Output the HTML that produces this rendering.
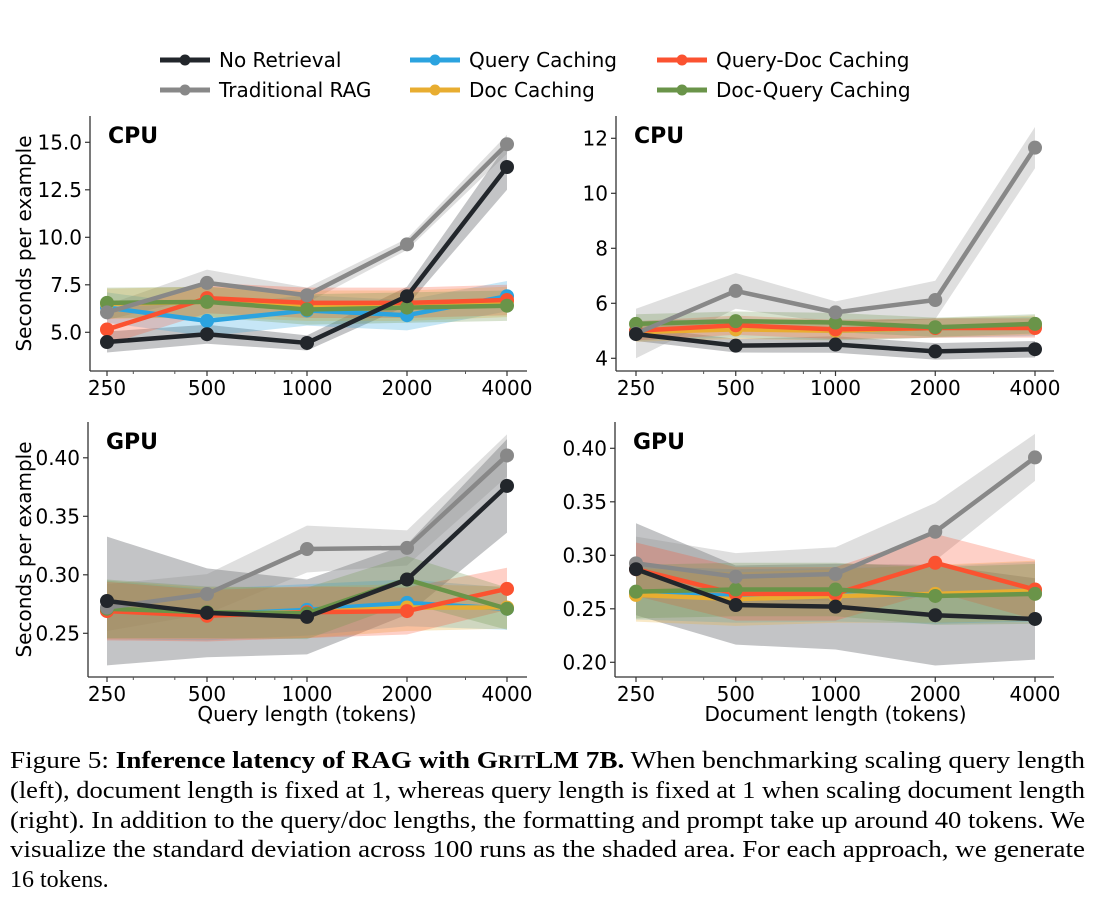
<!DOCTYPE html>
<html><head><meta charset="utf-8">
<style>
html,body{margin:0;padding:0;background:#fff;}
svg{display:block;font-family:"DejaVu Sans","Liberation Sans",sans-serif;}
</style></head>
<body>
<svg id="fig" width="1096" height="914" viewBox="0 0 1096 914" xmlns="http://www.w3.org/2000/svg">
  <g id="legend"></g>
  <g id="panels"></g>
  <g font-family="'Liberation Serif',serif" font-size="24" fill="#000">
    <text x="10" y="768" textLength="1075" lengthAdjust="spacingAndGlyphs">Figure 5: <tspan font-weight="bold">Inference latency of RAG with G<tspan font-size="18.5">RIT</tspan>LM 7B.</tspan> When benchmarking scaling query length</text>
    <text x="10" y="798" textLength="1075" lengthAdjust="spacingAndGlyphs">(left), document length is fixed at 1, whereas query length is fixed at 1 when scaling document length</text>
    <text x="10" y="828" textLength="1075" lengthAdjust="spacingAndGlyphs">(right). In addition to the query/doc lengths, the formatting and prompt take up around 40 tokens. We</text>
    <text x="10" y="857" textLength="1075" lengthAdjust="spacingAndGlyphs">visualize the standard deviation across 100 runs as the shaded area. For each approach, we generate</text>
    <text x="10" y="887">16 tokens.</text>
  </g>
</svg>
<script>
// ---- data ----
const categories = [250, 500, 1000, 2000, 4000];
const seriesNames = ["No Retrieval","Traditional RAG","Query Caching","Doc Caching","Query-Doc Caching","Doc-Query Caching"];
const seriesColors = ["#22262b","#888888","#2ba3df","#e8ad30","#fb5230","#6a9449"];

// Query length CPU
const qCpuNoRet   = [4.49, 4.9, 4.44, 6.9, 13.7];
const qCpuTrad    = [6.05, 7.6, 6.95, 9.63, 14.9];
const qCpuQuery   = [6.3, 5.6, 6.15, 5.9, 6.9];
const qCpuDoc     = [6.5, 6.6, 6.4, 6.4, 6.6];
const qCpuQD      = [5.15, 6.8, 6.55, 6.55, 6.7];
const qCpuDQ      = [6.55, 6.6, 6.2, 6.3, 6.4];
const qCpuNoRetSd = [0.55, 0.5, 0.4, 0.5, 1.2];
const qCpuTradSd  = [0.4, 0.7, 0.4, 0.3, 0.5];
const qCpuOtherSd = [0.8, 0.8, 0.8, 0.8, 0.8];

// Doc length CPU
const dCpuNoRet   = [4.88, 4.46, 4.5, 4.25, 4.33];
const dCpuTrad    = [4.9, 6.45, 5.67, 6.12, 11.66];
const dCpuQuery   = [5.0, 5.1, 5.0, 5.1, 5.15];
const dCpuDoc     = [4.95, 5.05, 5.0, 5.1, 5.2];
const dCpuQD      = [5.0, 5.2, 5.05, 5.1, 5.1];
const dCpuDQ      = [5.25, 5.35, 5.3, 5.13, 5.25];
const dCpuNoRetSd = [0.25, 0.25, 0.3, 0.3, 0.3];
const dCpuTradSd  = [0.9, 0.65, 0.4, 0.7, 0.75];
const dCpuOtherSd = [0.35, 0.35, 0.35, 0.35, 0.35];

// Query length GPU
const qGpuNoRet   = [0.2776, 0.2675, 0.264, 0.296, 0.376];
const qGpuTrad    = [0.272, 0.2836, 0.322, 0.323, 0.402];
const qGpuQuery   = [0.270, 0.266, 0.270, 0.276, 0.271];
const qGpuDoc     = [0.270, 0.267, 0.268, 0.272, 0.272];
const qGpuQD      = [0.269, 0.265, 0.268, 0.269, 0.288];
const qGpuDQ      = [0.271, 0.268, 0.267, 0.296, 0.271];
const qGpuNoRetSd = [0.055, 0.038, 0.032, 0.03, 0.04];
const qGpuTradSd  = [0.02, 0.017, 0.02, 0.015, 0.018];
const qGpuOtherSd = [0.025, 0.022, 0.022, 0.02, 0.018];

// Doc length GPU
const dGpuNoRet   = [0.287, 0.2535, 0.252, 0.244, 0.2405];
const dGpuTrad    = [0.2925, 0.28, 0.2825, 0.322, 0.3915];
const dGpuQuery   = [0.265, 0.262, 0.263, 0.263, 0.266];
const dGpuDoc     = [0.263, 0.259, 0.262, 0.264, 0.267];
const dGpuQD      = [0.287, 0.264, 0.264, 0.293, 0.268];
const dGpuDQ      = [0.266, 0.268, 0.268, 0.262, 0.264];
const dGpuNoRetSd = [0.043, 0.037, 0.04, 0.047, 0.038];
const dGpuTradSd  = [0.025, 0.022, 0.025, 0.027, 0.022];
const dGpuOtherSd = [0.025, 0.025, 0.025, 0.027, 0.028];

const qCpuTicks = [5.0, 7.5, 10.0, 12.5, 15.0];
const qCpuTickLabels = ["5.0","7.5","10.0","12.5","15.0"];
const dCpuTicks = [4, 6, 8, 10, 12];
const dCpuTickLabels = ["4","6","8","10","12"];
const qGpuTicks = [0.25, 0.30, 0.35, 0.40];
const qGpuTickLabels = ["0.25","0.30","0.35","0.40"];
const dGpuTicks = [0.20, 0.25, 0.30, 0.35, 0.40];
const dGpuTickLabels = ["0.20","0.25","0.30","0.35","0.40"];
const xTickLabels = ["250","500","1000","2000","4000"];
const minorTicks = [300,400,600,700,800,900,3000];

const NS = "http://www.w3.org/2000/svg";
function mk(tag, attrs, parent){
  const e = document.createElementNS(NS, tag);
  for (const k in attrs) e.setAttribute(k, attrs[k]);
  if (parent) parent.appendChild(e);
  return e;
}

// Legend
const leg = document.getElementById('legend');
const legPos = [[160,60],[160,90],[410,60],[410,90],[657,60],[657,90]];
seriesNames.forEach((n,i)=>{
  const g = mk('g',{},leg);
  
  
  const [x,y] = legPos[i];
  mk('line',{x1:x,y1:y,x2:x+50,y2:y,stroke:seriesColors[i],'stroke-width':5},g);
  mk('circle',{cx:x+25,cy:y,r:5.5,fill:seriesColors[i]},g);
  const t = mk('text',{x:x+59,y:y+7,'font-size':20,fill:'#000'},g);
  t.textContent = n;
});

// Panels
const panels = [
  {name:'query-cpu', title:'CPU', left:90, right:527, top:116, bottom:371, x0:107, dx:100, vy:5.0, py:332.3, scale:19.0,
   ticks:qCpuTicks, labels:qCpuTickLabels, ylab:true, xlab:null,
   vals:[qCpuNoRet,qCpuTrad,qCpuQuery,qCpuDoc,qCpuQD,qCpuDQ], sds:[qCpuNoRetSd,qCpuTradSd,qCpuOtherSd,qCpuOtherSd,qCpuOtherSd,qCpuOtherSd]},
  {name:'doc-cpu', title:'CPU', left:616, right:1054, top:116, bottom:371, x0:636, dx:99.75, vy:4, py:358.3, scale:27.5,
   ticks:dCpuTicks, labels:dCpuTickLabels, ylab:false, xlab:null,
   vals:[dCpuNoRet,dCpuTrad,dCpuQuery,dCpuDoc,dCpuQD,dCpuDQ], sds:[dCpuNoRetSd,dCpuTradSd,dCpuOtherSd,dCpuOtherSd,dCpuOtherSd,dCpuOtherSd]},
  {name:'query-gpu', title:'GPU', left:88, right:527, top:422, bottom:677, x0:107, dx:100, vy:0.25, py:633.3, scale:1170,
   ticks:qGpuTicks, labels:qGpuTickLabels, ylab:true, xlab:'Query length (tokens)',
   vals:[qGpuNoRet,qGpuTrad,qGpuQuery,qGpuDoc,qGpuQD,qGpuDQ], sds:[qGpuNoRetSd,qGpuTradSd,qGpuOtherSd,qGpuOtherSd,qGpuOtherSd,qGpuOtherSd]},
  {name:'doc-gpu', title:'GPU', left:615, right:1054, top:422, bottom:677, x0:636, dx:99.75, vy:0.20, py:662.3, scale:1070,
   ticks:dGpuTicks, labels:dGpuTickLabels, ylab:false, xlab:'Document length (tokens)',
   vals:[dGpuNoRet,dGpuTrad,dGpuQuery,dGpuDoc,dGpuQD,dGpuDQ], sds:[dGpuNoRetSd,dGpuTradSd,dGpuOtherSd,dGpuOtherSd,dGpuOtherSd,dGpuOtherSd]}
];
const root = document.getElementById('panels');
panels.forEach(p=>{
  const g = mk('g',{},root);
  
  
  const X = c => p.x0 + Math.log2(c/categories[0]) * p.dx;
  const Y = v => p.py - (v - p.vy) * p.scale;
  // bands
  p.vals.forEach((vals,i)=>{
    const sd = p.sds[i];
    let d = '';
    vals.forEach((v,j)=>{ d += (j?'L':'M') + X(categories[j]) + ' ' + Y(v+sd[j]); });
    for (let j=vals.length-1;j>=0;j--) d += 'L' + X(categories[j]) + ' ' + Y(vals[j]-sd[j]);
    const band = mk('path',{d:d+'Z',fill:seriesColors[i],'fill-opacity':0.27,stroke:'none'},g);
    
    
  });
  // lines (draw order)
  [2,3,4,5,1,0].forEach(i=>{
    const vals = p.vals[i];
    const sg = mk('g',{},g);
    
    
    const pts = vals.map((v,j)=>X(categories[j])+','+Y(v)).join(' ');
    mk('polyline',{points:pts,fill:'none',stroke:seriesColors[i],'stroke-width':4.5,'stroke-linejoin':'round'},sg);
    vals.forEach((v,j)=>{
      const c = mk('circle',{cx:X(categories[j]),cy:Y(v),r:7,fill:seriesColors[i]},sg);
      
      
    });
  });
  // spines
  const ax = mk('g',{stroke:'#333','stroke-width':1.3},g);
  
  
  mk('line',{x1:p.left,y1:p.top,x2:p.left,y2:p.bottom},ax);
  mk('line',{x1:p.left,y1:p.bottom,x2:p.right,y2:p.bottom},ax);
  // y ticks
  p.ticks.forEach((t,k)=>{
    const y = Y(t);
    mk('line',{x1:p.left-5,y1:y,x2:p.left,y2:y,stroke:'#333','stroke-width':1.2},g);
    const tx = mk('text',{x:p.left-8,y:y+7,'font-size':20,'text-anchor':'end',fill:'#000'},g);
    
    
    tx.textContent = p.labels[k];
  });
  // x ticks
  categories.forEach((c,k)=>{
    const x = X(c);
    mk('line',{x1:x,y1:p.bottom,x2:x,y2:p.bottom+5,stroke:'#333','stroke-width':1.2},g);
    const tx = mk('text',{x:x,y:p.bottom+24,'font-size':20,'text-anchor':'middle',fill:'#000'},g);
    
    
    tx.textContent = xTickLabels[k];
  });
  minorTicks.forEach(c=>{
    const x = X(c);
    mk('line',{x1:x,y1:p.bottom,x2:x,y2:p.bottom+3,stroke:'#555','stroke-width':1},g);
  });
  // title
  const tt = mk('text',{x:p.left+18,y:p.top+27,'font-size':22,'font-weight':'bold',fill:'#000'},g);
  
  
  tt.textContent = p.title;
  if (p.ylab){
    const cy = (p.top+p.bottom)/2;
    const yl = mk('text',{x:0,y:0,'font-size':20,'text-anchor':'middle',fill:'#000',transform:'translate(31,'+cy+') rotate(-90)'},g);
    
    
    yl.textContent = 'Seconds per example';
  }
  if (p.xlab){
    const xl = mk('text',{x:(X(categories[0])+X(categories[4]))/2,y:p.bottom+44,'font-size':20,'text-anchor':'middle',fill:'#000'},g);
    
    
    xl.textContent = p.xlab;
  }
});
</script>
</body></html>
